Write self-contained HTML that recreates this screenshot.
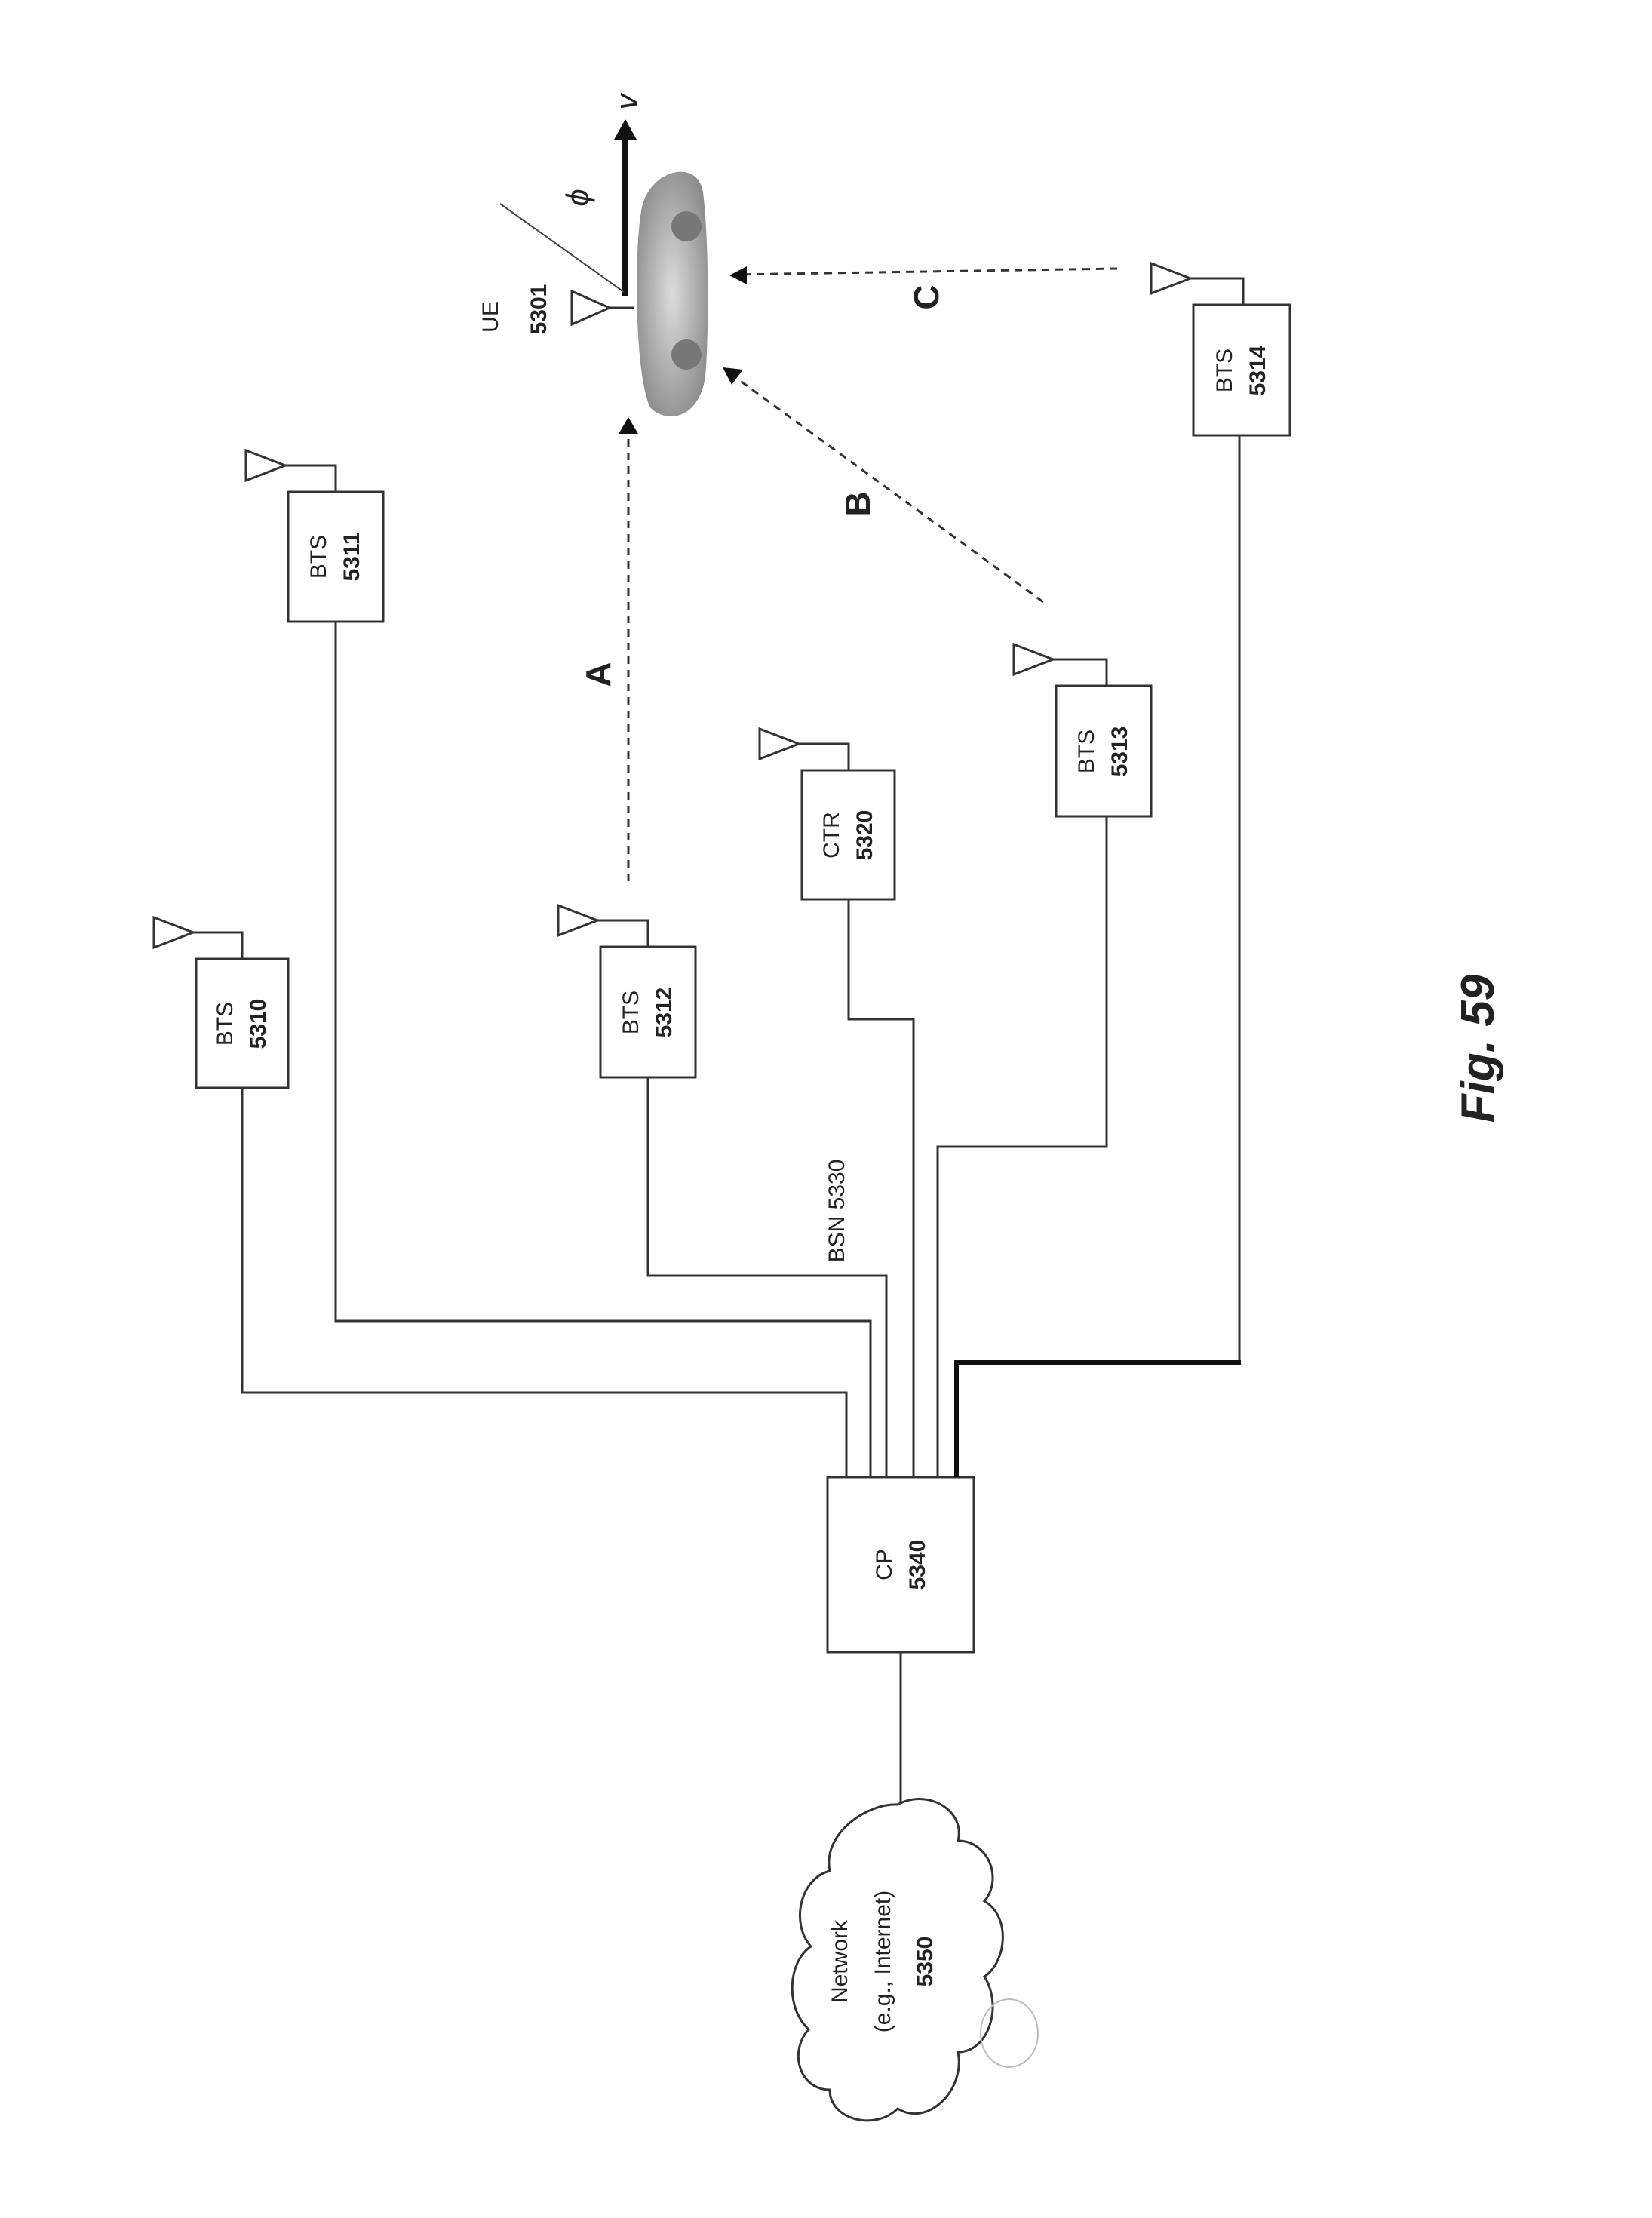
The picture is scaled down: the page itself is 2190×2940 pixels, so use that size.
<!DOCTYPE html>
<html><head><meta charset="utf-8"><style>
html,body{margin:0;padding:0;background:#fff;}
svg{display:block;}
text{font-family:"Liberation Sans",sans-serif;fill:#222;}
</style></head><body>
<svg width="2190" height="2940" viewBox="0 0 2190 2940" xmlns="http://www.w3.org/2000/svg">
<defs>
<marker id="ah" markerWidth="10" markerHeight="10" refX="9" refY="5" orient="auto" markerUnits="userSpaceOnUse" viewBox="0 0 10 10">
<path d="M0,0 L10,5 L0,10 z" fill="#111"/>
</marker>
<radialGradient id="cg" cx="50%" cy="50%" r="60%">
<stop offset="0" stop-color="#ddd"/><stop offset="1" stop-color="#888"/>
</radialGradient>
</defs>
<g fill="none" stroke="#333" stroke-width="3">
<rect x="260" y="1271" width="122" height="171"/>
<rect x="382" y="652" width="126" height="172"/>
<rect x="796" y="1255" width="126" height="173"/>
<rect x="1063" y="1021" width="123" height="171"/>
<rect x="1400" y="909" width="126" height="173"/>
<rect x="1582" y="404" width="128" height="173"/>
<rect x="1097" y="1958" width="194" height="232"/>
<path d="M204,1216 L204,1256 L256,1236 z M256,1236 H321 V1271"/>
<path d="M326,597 L326,637 L378,617 z M378,617 H445 V652"/>
<path d="M740,1200 L740,1240 L792,1220 z M792,1220 H859 V1255"/>
<path d="M1007,966 L1007,1006 L1059,986 z M1059,986 H1125 V1021"/>
<path d="M1344,854 L1344,894 L1396,874 z M1396,874 H1467 V909"/>
<path d="M1526,349 L1526,389 L1578,369 z M1578,369 H1648 V404"/>
<path d="M758,386 L758,430 L808,408 z M808,408 H840"/>
<path d="M321,1442 V1846 H1122 V1958"/>
<path d="M445,824 V1751 H1154 V1958"/>
<path d="M859,1428 V1691 H1175 V1958"/>
<path d="M1125,1192 V1351 H1211 V1958"/>
<path d="M1467,1082 V1520 H1243 V1958"/>
<path d="M1194,2190 V2390"/>
<path d="M1643,577 V1806"/>
</g>
<path d="M1645,1806 H1268 V1958" fill="none" stroke="#111" stroke-width="6"/>
<path d="M1190,2392 C1230,2370 1280,2400 1270,2440 C1310,2440 1330,2490 1305,2520 C1340,2540 1335,2600 1305,2620 C1330,2660 1310,2720 1270,2720 C1280,2770 1230,2820 1190,2795 C1160,2825 1100,2810 1100,2770 C1060,2770 1045,2720 1072,2690 C1040,2660 1045,2600 1075,2580 C1048,2550 1060,2490 1100,2480 C1090,2430 1150,2390 1190,2392 z" fill="none" stroke="#333" stroke-width="3"/>
<ellipse cx="1338" cy="2695" rx="38" ry="45" fill="none" stroke="#bbb" stroke-width="2"/>
<path d="M850,280 C858,225 925,208 932,255 C940,320 940,440 935,500 C925,560 880,560 862,540 C842,500 840,340 850,280 z" fill="url(#cg)"/>
<circle cx="910" cy="300" r="20" fill="#777"/>
<circle cx="910" cy="470" r="20" fill="#777"/>
<line x1="829" y1="393" x2="829" y2="180" stroke="#111" stroke-width="8"/>
<path d="M814,185 L829,158 L844,185 z" fill="#111"/>
<line x1="663" y1="270" x2="827" y2="387" stroke="#444" stroke-width="2"/>
<g stroke="#333" stroke-width="3" stroke-dasharray="10,8" fill="none">
<line x1="833" y1="1168" x2="833" y2="562"/>
<line x1="1383" y1="798" x2="961" y2="490"/>
<line x1="1481" y1="356" x2="970" y2="364"/>
</g>
<g fill="#111">
<path d="M820,575 L833,553 L846,575 z"/>
<path d="M958,487 L985,490 L970,510 z"/>
<path d="M967,365 L990,353 L990,377 z"/>
</g>
<g font-size="30" text-anchor="middle">
<text transform="translate(308,1357) rotate(-90)">BTS</text>
<text transform="translate(352,1357) rotate(-90)" font-weight="bold">5310</text>
<text transform="translate(432,738) rotate(-90)">BTS</text>
<text transform="translate(476,738) rotate(-90)" font-weight="bold">5311</text>
<text transform="translate(846,1342) rotate(-90)">BTS</text>
<text transform="translate(890,1342) rotate(-90)" font-weight="bold">5312</text>
<text transform="translate(1112,1107) rotate(-90)">CTR</text>
<text transform="translate(1156,1107) rotate(-90)" font-weight="bold">5320</text>
<text transform="translate(1450,996) rotate(-90)">BTS</text>
<text transform="translate(1494,996) rotate(-90)" font-weight="bold">5313</text>
<text transform="translate(1633,491) rotate(-90)">BTS</text>
<text transform="translate(1677,491) rotate(-90)" font-weight="bold">5314</text>
<text transform="translate(1182,2074) rotate(-90)">CP</text>
<text transform="translate(1226,2074) rotate(-90)" font-weight="bold">5340</text>
<text transform="translate(1123,2600) rotate(-90)">Network</text>
<text transform="translate(1180,2600) rotate(-90)">(e.g., Internet)</text>
<text transform="translate(1236,2600) rotate(-90)" font-weight="bold">5350</text>
<text transform="translate(1119,1605) rotate(-90)">BSN 5330</text>
<text transform="translate(660,420) rotate(-90)">UE</text>
<text transform="translate(724,410) rotate(-90)" font-weight="bold">5301</text>
</g>
<g font-size="46" font-weight="bold" text-anchor="middle">
<text transform="translate(809,894) rotate(-90)">A</text>
<text transform="translate(1153,668) rotate(-90)">B</text>
<text transform="translate(1244,394) rotate(-90)">C</text>
</g>
<text transform="translate(845,135) rotate(-90)" font-size="42" font-style="italic" font-family="Liberation Serif,serif" text-anchor="middle">v</text>
<text transform="translate(780,262) rotate(-90)" font-size="42" font-style="italic" font-family="Liberation Serif,serif" text-anchor="middle">ϕ</text>
<text transform="translate(1980,1390) rotate(-90)" font-size="62" font-weight="bold" font-style="italic" text-anchor="middle">Fig. 59</text>
</svg>
</body></html>
